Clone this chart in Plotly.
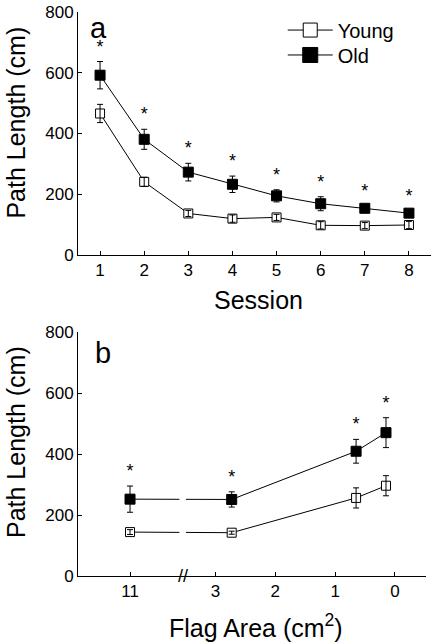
import plotly.graph_objects as go

# ---------------- data ----------------
sessions = [1, 2, 3, 4, 5, 6, 7, 8]
young_a = [466, 241, 137, 120, 124, 98, 97, 99]
young_a_err = [30, 15, 10, 12, 10, 12, 10, 12]
old_a = [592, 381, 273, 233, 195, 169, 154, 138]
old_a_err = [45, 33, 29, 27, 20, 23, 8, 8]
sig_a = [True, True, True, True, True, True, True, True]

flag_area = [11, 2.73, 0.65, 0.15]
young_b = [144, 142, 256, 296]
young_b_err = [8, 5, 33, 33]
old_b = [252, 251, 409, 470]
old_b_err = [43, 25, 39, 49]
sig_b = [True, True, True, True]

y_ticks = [0, 200, 400, 600, 800]
b_tick_areas = [11, 3, 2, 1, 0]

# ---------------- broken-axis mapping (panel b) ----------------
BREAK_LIMIT = 3      # areas above this are drawn beyond the axis break
FAR_POS = 4.43       # display position of the segment beyond the break
BREAK_POS = 3.55     # where the break marks sit
BREAK_HALF = 0.055


def flag_pos(a):
    return a if a <= BREAK_LIMIT else FAR_POS


b_x = [flag_pos(a) for a in flag_area]
b_tickvals = [flag_pos(a) for a in b_tick_areas]
b_ticktext = [str(a) for a in b_tick_areas]

FONT = "Liberation Sans, Arial, Helvetica, sans-serif"
STAR_OFF = 44

fig = go.Figure()


def add_panel(x, yy, ye, yo, oe, sig, xa, ya):
    # old
    fig.add_trace(go.Scatter(
        x=x, y=yo, mode="lines+markers", xaxis=xa, yaxis=ya, showlegend=False,
        line=dict(color="black", width=1),
        marker=dict(symbol="square", size=10, color="black", line=dict(color="black", width=1)),
        error_y=dict(type="data", array=oe, color="black", thickness=1, width=3),
    ))
    # young
    fig.add_trace(go.Scatter(
        x=x, y=yy, mode="lines+markers", xaxis=xa, yaxis=ya, showlegend=False,
        line=dict(color="black", width=1),
        marker=dict(symbol="square", size=9, color="white", line=dict(color="black", width=1)),
    ))
    # young error bars on top of the open markers
    fig.add_trace(go.Scatter(
        x=x, y=yy, mode="markers", xaxis=xa, yaxis=ya, showlegend=False,
        marker=dict(size=1, opacity=0),
        error_y=dict(type="data", array=ye, color="black", thickness=1, width=3),
        hoverinfo="skip",
    ))
    # significance stars
    sx = [xi for xi, s in zip(x, sig) if s]
    sy = [o + e + STAR_OFF for o, e, s in zip(yo, oe, sig) if s]
    fig.add_trace(go.Scatter(
        x=sx, y=sy, mode="text", text=["*"] * len(sx), xaxis=xa, yaxis=ya,
        showlegend=False, textposition="middle center",
        textfont=dict(family=FONT, size=18, color="black"), hoverinfo="skip",
    ))


add_panel(sessions, young_a, young_a_err, old_a, old_a_err, sig_a, "x", "y")
add_panel(b_x, young_b, young_b_err, old_b, old_b_err, sig_b, "x2", "y2")

# legend entries (one legend box per entry so the row spacing can match)
fig.add_trace(go.Scatter(
    x=[None], y=[None], mode="lines+markers", name="Young", legend="legend",
    line=dict(color="black", width=1),
    marker=dict(symbol="square", size=14, color="white", line=dict(color="black", width=1)),
))
fig.add_trace(go.Scatter(
    x=[None], y=[None], mode="lines+markers", name="Old", legend="legend2",
    line=dict(color="black", width=1),
    marker=dict(symbol="square", size=15, color="black", line=dict(color="black", width=1)),
))

axis_common = dict(
    showline=True, linecolor="black", linewidth=1, ticks="inside", ticklen=4,
    tickcolor="black", tickwidth=1, showgrid=False, zeroline=False,
    tickfont=dict(family=FONT, size=17, color="black"),
)

leg_common = dict(x=0.58, xanchor="left", yanchor="middle", bgcolor="rgba(0,0,0,0)",
                  font=dict(family=FONT, size=20, color="black"), itemwidth=45)

fig.update_layout(
    width=432, height=642,
    margin=dict(l=78, r=1, t=12, b=66),
    paper_bgcolor="white", plot_bgcolor="white",
    font=dict(family=FONT, color="black"),
    xaxis=dict(domain=[0, 1], range=[0.5, 8.5], tickvals=sessions, anchor="y", **axis_common),
    yaxis=dict(domain=[0.569, 1], range=[0, 800], tickvals=y_ticks, anchor="x", **axis_common),
    xaxis2=dict(domain=[0, 0.986], range=[5.3, -0.52], tickvals=b_tickvals, ticktext=b_ticktext,
                anchor="y2", **axis_common),
    yaxis2=dict(domain=[0, 0.4326], range=[0, 800], tickvals=y_ticks, anchor="x2", **axis_common),
    legend=dict(y=0.968, **leg_common),
    legend2=dict(y=0.9238, **leg_common),
    showlegend=True,
)

ann = dict(showarrow=False, xref="paper", yref="paper")
big = dict(family=FONT, size=29, color="black")
ttl = dict(family=FONT, size=25, color="black")
fig.add_annotation(text="a", x=0.057, y=0.972, xanchor="center", yanchor="middle", font=big, **ann)
fig.add_annotation(text="b", x=0.071, y=0.395, xanchor="center", yanchor="middle", font=big, **ann)
fig.add_annotation(text="Path Length (cm)", x=-0.1756, y=0.804, textangle=-90,
                   xanchor="center", yanchor="middle", font=ttl, **ann)
fig.add_annotation(text="Path Length (cm)", x=-0.1756, y=0.2376, textangle=-90,
                   xanchor="center", yanchor="middle", font=ttl, **ann)
fig.add_annotation(text="Session", x=0.51, y=0.489, xanchor="center", yanchor="middle", font=ttl, **ann)
fig.add_annotation(text="Flag Area (cm<sup>2</sup>)", x=0.504, y=-0.0885, xanchor="center",
                   yanchor="middle", font=ttl, **ann)
# break marks on the panel b axis
fig.add_annotation(text="//", x=BREAK_POS, y=0, xref="x2", yref="y2", showarrow=False,
                   xanchor="center", yanchor="middle", font=dict(family=FONT, size=18, color="black"))

# gap in the connecting lines at the axis break
fig.add_shape(type="rect", xref="x2", yref="y2", x0=BREAK_POS - BREAK_HALF, x1=BREAK_POS + BREAK_HALF,
              y0=10, y1=790, fillcolor="white", line=dict(width=0), layer="above")

# remove the default 8px page margin so the figure fills the window exactly
fig.write_html("out.html", config={"displayModeBar": False},
               post_script="document.body.style.margin='0';document.body.style.padding='0';")
